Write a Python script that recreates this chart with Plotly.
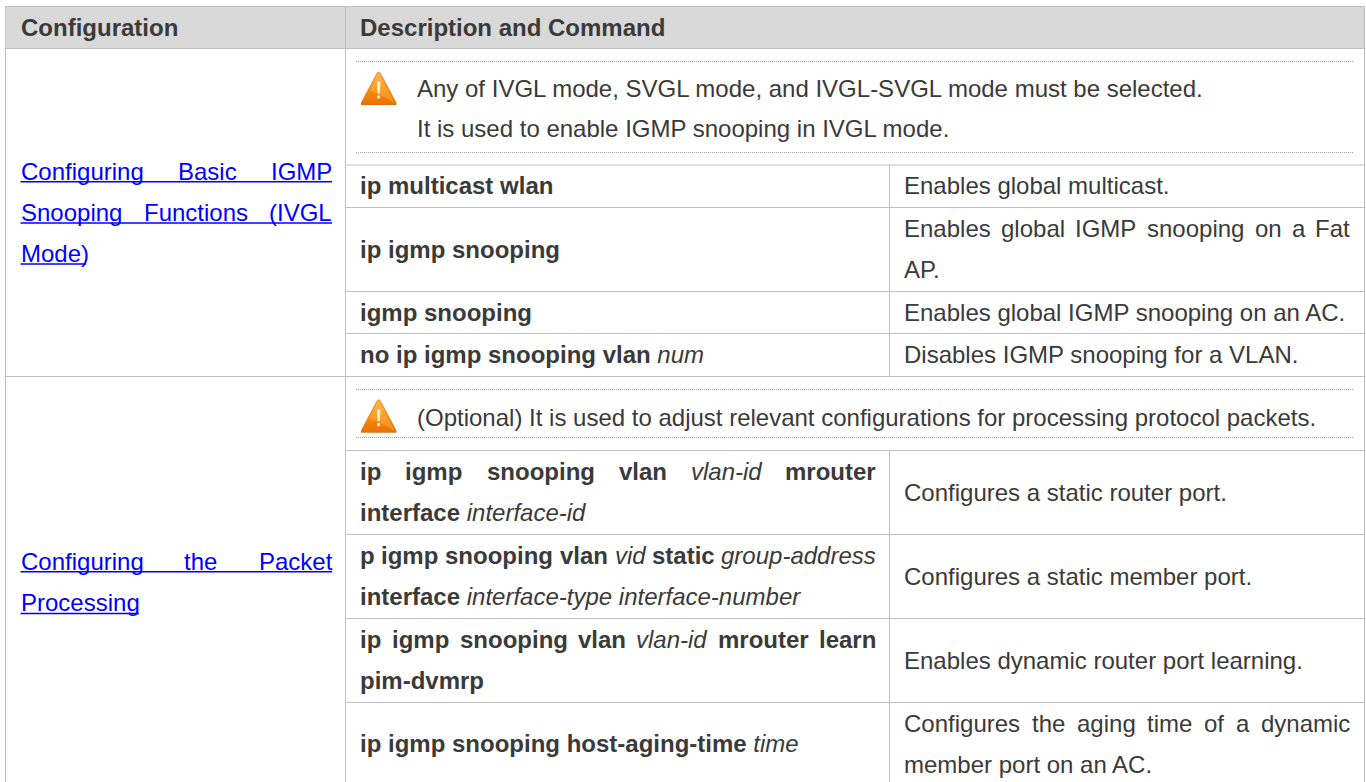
import base64
import plotly.graph_objects as go

FONT = "Liberation Sans"
SIZE = 24
INK = "#3a3a3a"
LINK = "#0000ff"
RULE = "#bfbfbf"
DOT = "#a6a6a6"
HEAD_FILL = "#d9d9d9"

# table text -------------------------------------------------------------
headers = ["Configuration", "Description and Command"]
link_lines_1 = ["Configuring Basic IGMP", "Snooping Functions (IVGL", "Mode)"]
link_lines_2 = ["Configuring the Packet", "Processing"]
note_1 = ["Any of IVGL mode, SVGL mode, and IVGL-SVGL mode must be selected.",
          "It is used to enable IGMP snooping in IVGL mode."]
note_2 = ["(Optional) It is used to adjust relevant configurations for processing protocol packets."]
# words prefixed with * are bold, with _ italic
commands = [
    ["*ip *multicast *wlan"],
    ["*ip *igmp *snooping"],
    ["*igmp *snooping"],
    ["*no *ip *igmp *snooping *vlan _num"],
    ["*ip *igmp *snooping *vlan _vlan-id *mrouter", "*interface _interface-id"],
    ["*p *igmp *snooping *vlan _vid *static _group-address", "*interface _interface-type _interface-number"],
    ["*ip *igmp *snooping *vlan _vlan-id *mrouter *learn", "*pim-dvmrp"],
    ["*ip *igmp *snooping *host-aging-time _time"],
]
effects = [
    ["Enables global multicast."],
    ["Enables global IGMP snooping on a Fat", "AP."],
    ["Enables global IGMP snooping on an AC."],
    ["Disables IGMP snooping for a VLAN."],
    ["Configures a static router port."],
    ["Configures a static member port."],
    ["Enables dynamic router port learning."],
    ["Configures the aging time of a dynamic", "member port on an AC."],
]
justified = {"Configuring Basic IGMP", "Snooping Functions (IVGL", "Configuring the Packet",
             "Enables global IGMP snooping on a Fat", "Configures the aging time of a dynamic",
             "*ip *igmp *snooping *vlan _vlan-id *mrouter",
             "*p *igmp *snooping *vlan _vid *static _group-address",
             "*ip *igmp *snooping *vlan _vlan-id *mrouter *learn"}

# table geometry ---------------------------------------------------------
X_L, X_C1, X_C2, X_R = 5.5, 345.5, 889.5, 1364.5
Y_TOP, Y_HEAD, Y_END = 6.5, 48.5, 782
Y_SPLIT = 376.5
cmd_rows = [(165, 207.5), (207.5, 291.5), (291.5, 333.5), (333.5, 376.5),
            (450.5, 534.5), (534.5, 618.5), (618.5, 702.5), (702.5, 786)]
dots = [61.5, 152.5, 389.5, 437.5]
LEAD = 41
TX0, TX1, TX2 = 20.5, 360, 904
COL_R0, COL_R1, COL_R2 = 332, 876, 1350
BASE_SHIFT = 0.3465 * SIZE

REG = dict(zip("abcdefghijklmnopqrstuvwxyz",
    [.556,.556,.5,.556,.556,.278,.556,.556,.222,.222,.5,.222,.833,.556,.556,.556,.556,.333,.5,.278,.556,.5,.722,.5,.5,.5]))
REG.update({"C":.722,"B":.667,"I":.278,"G":.778,"M":.833,"P":.667,"S":.667,"F":.611,"V":.667,"L":.556,
            "A":.667,"E":.667,"D":.722,"O":.778,"(":.333,")":.333,"-":.333,".":.278,",":.278})
BLD = dict(zip("abcdefghijklmnopqrstuvwxyz",
    [.556,.611,.556,.611,.556,.333,.611,.611,.278,.278,.556,.278,.889,.611,.611,.611,.611,.389,.556,.333,.611,.556,.778,.556,.556,.5]))
BLD["-"] = .333


def style(word):
    if word[0] == "*":
        return "<b>" + word[1:] + "</b>", word[1:], BLD
    if word[0] == "_":
        return "<i>" + word[1:] + "</i>", word[1:], REG
    return word, word, REG


annotations = []


def put(text, x, base, color=INK, anchor="left"):
    annotations.append(dict(x=x, y=base - BASE_SHIFT, text=text, xref="x", yref="y", showarrow=False,
                            xanchor=anchor, yanchor="middle", align="left", borderpad=0, borderwidth=0,
                            font=dict(family=FONT, size=SIZE, color=color)))


def line(src, x0, x1, base, color=INK):
    words = src.split(" ")
    if src in justified:
        parts = [style(w) for w in words]
        widths = [sum(t[c] for c in plain) * SIZE for _, plain, t in parts]
        gap = (x1 - x0 - sum(widths)) / (len(words) - 1)
        x = x0
        for (markup, _, _), w in zip(parts, widths):
            put(markup, x, base, color)
            x += w + gap
    else:
        put(" ".join(style(w)[0] for w in words), x0, base, color)


def block(lines, x0, x1, top, bottom, color=INK):
    mid = (top + bottom) / 2
    first = mid - LEAD * (len(lines) - 1) / 2 + 8
    for i, src in enumerate(lines):
        line(src, x0, x1, first + i * LEAD, color)


shapes = [dict(type="rect", x0=X_L, x1=X_R, y0=Y_TOP, y1=Y_HEAD, fillcolor=HEAD_FILL, line=dict(width=0), layer="below")]


def rule(x0, y0, x1, y1, color=RULE, width=1, dash=None):
    ln = dict(color=color, width=width)
    if dash:
        ln["dash"] = dash
    shapes.append(dict(type="line", x0=x0, y0=y0, x1=x1, y1=y1, line=ln))


rule(X_L, Y_TOP, X_R, Y_TOP)
rule(X_L, Y_HEAD, X_R, Y_HEAD)
rule(X_L, Y_SPLIT, X_R, Y_SPLIT)
rule(X_L, Y_TOP, X_L, Y_END)
rule(X_C1, Y_TOP, X_C1, Y_END)
rule(X_R, Y_TOP, X_R, Y_END)
for top, bottom in cmd_rows:
    rule(X_C2, top, X_C2, min(bottom, Y_END))
    rule(X_C1, top, X_R, top)
    if bottom < Y_END:
        rule(X_C1, bottom, X_R, bottom)
for y in dots:
    rule(356, y, 1353, y, DOT, 1, "1px,1px")

# text -------------------------------------------------------------------
put("<b>" + headers[0] + "</b>", TX0, 36)
put("<b>" + headers[1] + "</b>", TX1, 36)

for i, src in enumerate(link_lines_1):
    line(src, TX0, COL_R0, 179.5 + i * LEAD, LINK)
for i, src in enumerate(link_lines_2):
    line(src, TX0, COL_R0, 569.5 + i * LEAD, LINK)

# continuous underline below the link lines
for y, x1 in [(181.7, 332), (223, 332), (264, 86), (571.7, 332), (613.5, 139)]:
    rule(TX0, y, x1, y, LINK, 1.6)

for i, src in enumerate(note_1):
    put(src, 417, 97 + i * 40)
put(note_2[0], 417, 425.5)

for (top, bottom), cmd, eff in zip(cmd_rows, commands, effects):
    block(cmd, TX1, COL_R1, top, bottom)
    block(eff, TX2, COL_R2, top, bottom)

# warning icons ----------------------------------------------------------
icon_svg = """<svg xmlns='http://www.w3.org/2000/svg' viewBox='0 0 36 33'>
<defs><linearGradient id='g' x1='0' y1='0' x2='0' y2='1'>
<stop offset='0' stop-color='#ffb347'/><stop offset='0.55' stop-color='#f98a0c'/><stop offset='1' stop-color='#e86f00'/>
</linearGradient></defs>
<path d='M18 0.5 C19 0.5 19.5 1.2 20 2.2 L35.5 31 C36 32.2 35.5 33 34.5 33 L1.5 33 C0.5 33 0 32.2 0.5 31 L16 2.2 C16.5 1.2 17 0.5 18 0.5Z' fill='url(#g)' stroke='#c8731a' stroke-width='0.6'/>
<path d='M18 2 L34 31 C26 26 20 24 9 19Z' fill='#ffc266' opacity='0.35'/>
<path d='M16.2 10 L19.8 10 L19 21.5 L17 21.5Z' fill='#fff4d6'/>
<rect x='16.6' y='23.5' width='2.8' height='3.2' rx='0.8' fill='#fff4d6'/>
</svg>"""
icon_src = "data:image/svg+xml;base64," + base64.b64encode(icon_svg.encode()).decode()
images = [dict(source=icon_src, xref="x", yref="y", x=360.7, y=y, sizex=36, sizey=33.4,
               xanchor="left", yanchor="top", sizing="stretch", layer="above") for y in (71.6, 399.3)]

fig = go.Figure()
fig.update_layout(
    width=1366, height=782, margin=dict(l=0, r=0, t=0, b=0),
    paper_bgcolor="white", plot_bgcolor="white", showlegend=False,
    xaxis=dict(range=[0, 1366], visible=False, fixedrange=True),
    yaxis=dict(range=[782, 0], visible=False, fixedrange=True),
    shapes=shapes, annotations=annotations, images=images,
)
fig.write_html("out.html", config={"displayModeBar": False},
               post_script="document.body.style.margin='0';document.documentElement.style.overflow='hidden';")
